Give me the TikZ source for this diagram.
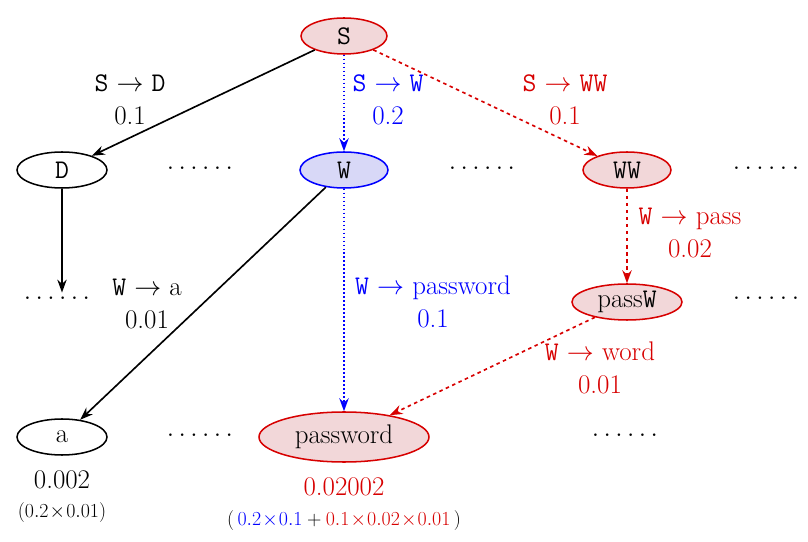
\RequirePackage{fix-cm}
\documentclass[tikz,border=0pt]{standalone}
\usepackage{fontspec}
\usetikzlibrary{shapes.geometric,arrows.meta}
\definecolor{pk}{RGB}{242,215,217}
\definecolor{lb}{RGB}{216,216,247}
\definecolor{rd}{RGB}{215,0,0}
\begin{document}
\begin{tikzpicture}[x=0.03cm,y=-0.03cm,
 every node/.style={font=\fontsize{23}{28}\selectfont},
 st/.style={ellipse,draw,line width=1.3pt,minimum height=36*0.03cm,inner sep=0pt},
 rn/.style={st,draw=rd,fill=pk},
 bn/.style={st,draw=blue,fill=lb},
 wn/.style={st,draw=black,fill=white},
 ar/.style={-{Stealth[length=11pt,width=8pt]},line width=1.4pt},
 lab/.style={align=center}]
\useasboundingbox (0,0) rectangle (808,542);
\node[rn,minimum width=86*0.03cm] (S) at (344,36) {\texttt{S}};
\node[wn,minimum width=90*0.03cm] (D) at (62,170) {\texttt{D}};
\node[bn,minimum width=88*0.03cm] (W) at (344,170) {\texttt{W}};
\node[rn,minimum width=88*0.03cm] (WW) at (627,170) {\texttt{WW}};
\node[rn,minimum width=110*0.03cm] (pW) at (627,302) {pass\texttt{W}};
\node[wn,minimum width=90*0.03cm] (a) at (62,437) {a};
\node[rn,minimum width=170*0.03cm,minimum height=50*0.03cm] (pw) at (344,437) {password};
\node (d1) at (200,168) {$\ldots\ldots$};
\node (d2) at (482,168) {$\ldots\ldots$};
\node (d3) at (766,168) {$\ldots\ldots$};
\node (d4) at (57,298) {$\ldots\ldots$};
\node (d5) at (766,298) {$\ldots\ldots$};
\node (d6) at (200,435) {$\ldots\ldots$};
\node (d7) at (625,435) {$\ldots\ldots$};
\draw[ar] (S) -- (D);
\draw[ar,blue,dotted] (S) -- (W);
\draw[rd,ar,dashed] (S) -- (WW);
\draw[ar] (D) -- (d4.north -| D);
\draw[ar] (W) -- (a);
\draw[ar,blue,dotted] (W) -- (pw);
\draw[rd,ar,dashed] (WW.south) -- (pW.north);
\draw[rd,ar,dashed] (pW) -- (pw);
\node[lab] (l1) at (130,100) {\texttt{S} $\rightarrow$ \texttt{D}\\0.1};
\node[lab,blue] (l2) at (388,100) {\texttt{S} $\rightarrow$ \texttt{W}\\0.2};
\node[lab,rd] (l3) at (565,100) {\texttt{S} $\rightarrow$ \texttt{WW}\\0.1};
\node[lab,rd] (l4) at (690,233) {\texttt{W} $\rightarrow$ pass\\0.02};
\node[lab] (l5) at (147,304) {\texttt{W} $\rightarrow$ a\\0.01};
\node[lab,blue] (l6) at (433,302) {\texttt{W} $\rightarrow$ password\\0.1};
\node[lab,rd] (l7) at (600,368) {\texttt{W} $\rightarrow$ word\\0.01};
\node (v1) at (62,480) {0.002};
\node[font=\fontsize{17}{20}\selectfont] (v2) at (62,513) {$(0.2\!\times\!0.01)$};
\node[rd] (v3) at (344,487) {0.02002};
\node[font=\fontsize{17}{20}\selectfont] (v4) at (344,521) {$(\,{\color{blue}0.2\!\times\!0.1}+{\color{rd}0.1\!\times\!0.02\!\times\!0.01}\,)$};
\end{tikzpicture}
\end{document}
